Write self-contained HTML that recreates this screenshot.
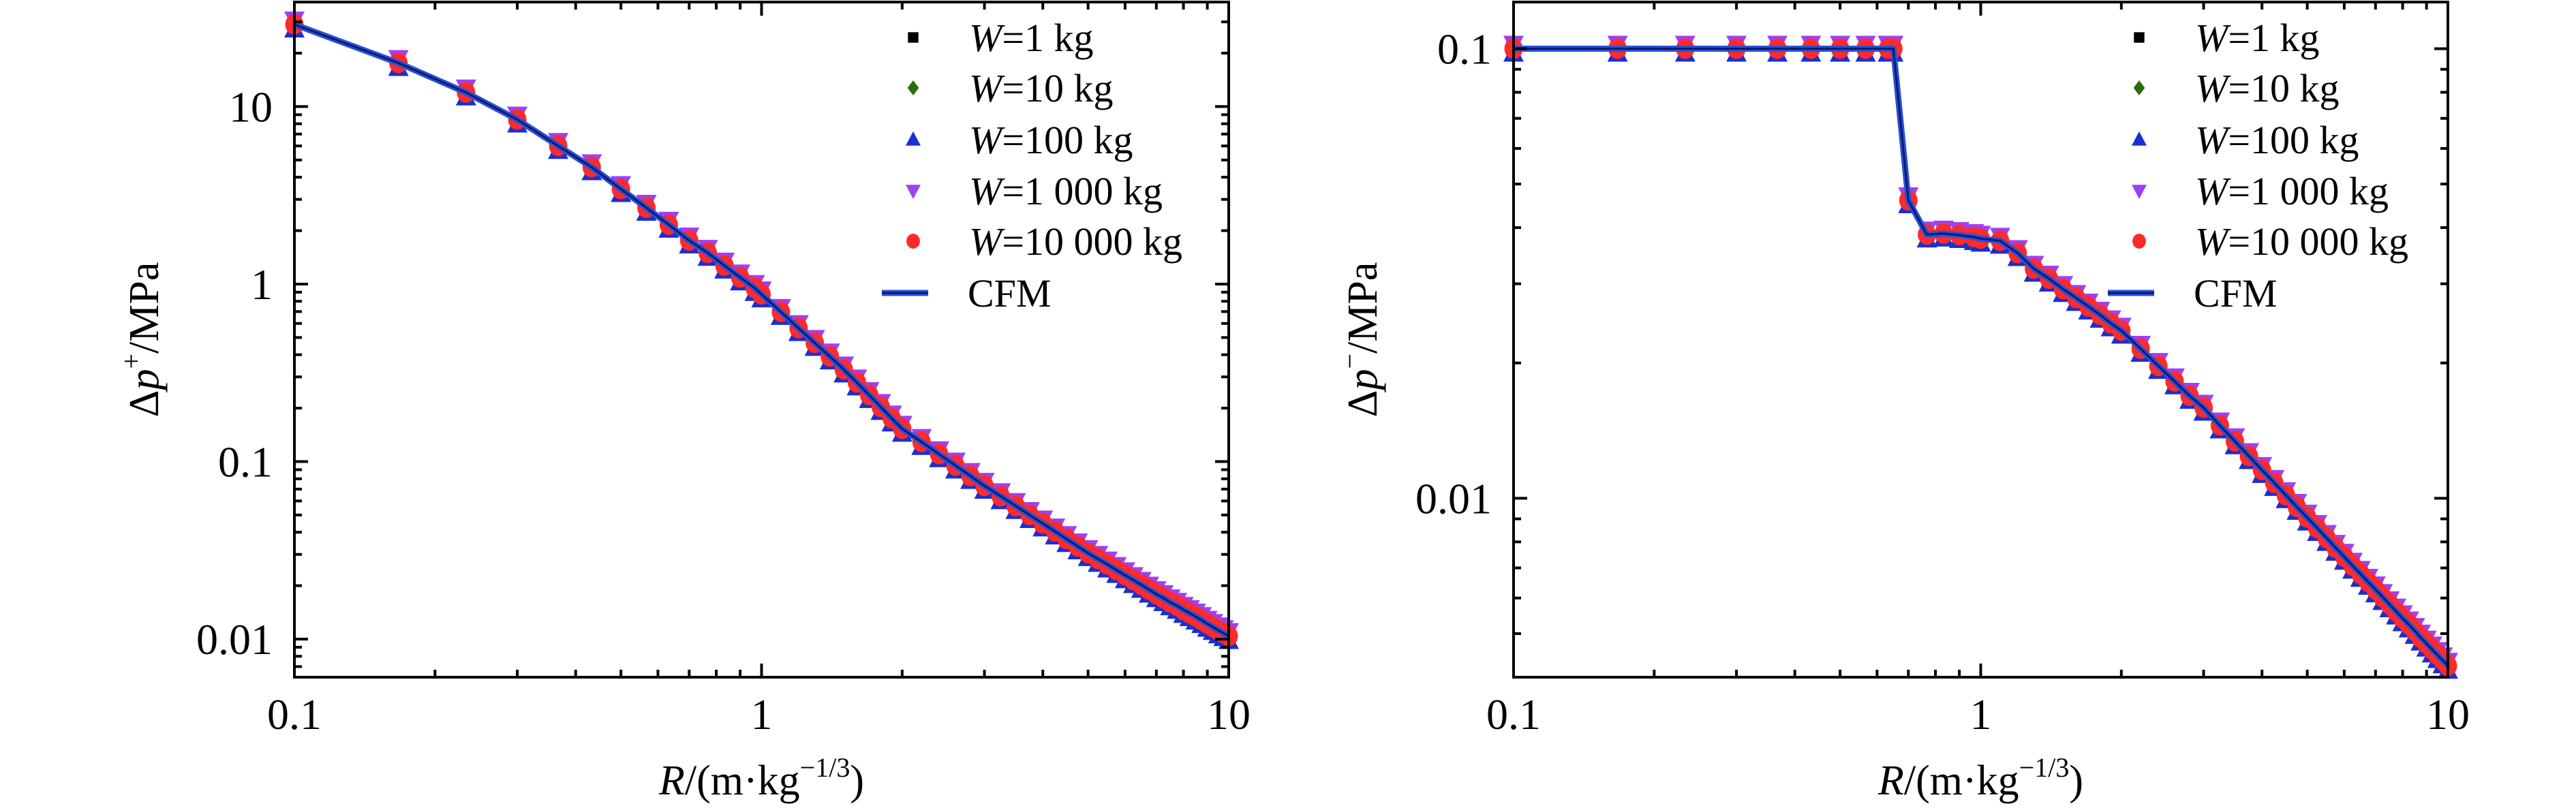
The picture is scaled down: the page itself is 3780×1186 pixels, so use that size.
<!DOCTYPE html>
<html><head><meta charset="utf-8"><style>
html,body{margin:0;padding:0;background:#fff}
svg{display:block}
text{font-family:"Liberation Serif",serif;fill:#000}
</style></head><body>
<svg id="chart" width="3780" height="1186" viewBox="0 0 3780 1186" xmlns="http://www.w3.org/2000/svg"></svg>
<script>
// ---- data (left panel: peak overpressure) ----
const leftR = [0.1,0.167,0.233,0.3,0.367,0.433,0.5,0.567,0.633,0.7,0.767,0.833,0.9,0.967,1.0,1.1,1.2,1.3,1.4,1.5,1.6,1.7,1.8,1.9,2.0,2.2,2.4,2.6,2.8,3.0,3.25,3.5,3.75,4,4.25,4.5,4.75,5,5.25,5.5,5.75,6,6.25,6.5,6.75,7,7.25,7.5,7.75,8,8.25,8.5,8.75,9,9.25,9.5,9.75,10];
const leftP = [29,17.6,12,8.45,6.0,4.55,3.43,2.69,2.16,1.76,1.50,1.27,1.09,0.95,0.875,0.697,0.565,0.466,0.391,0.33,0.279,0.237,0.203,0.175,0.153,0.129,0.110,0.095,0.083,0.073,0.0638,0.0562,0.0500,0.0448,0.0404,0.0366,0.0333,0.0305,0.0283,0.0263,0.0245,0.0229,0.0215,0.0202,0.0190,0.0179,0.0170,0.0161,0.0154,0.0146,0.0140,0.0134,0.0128,0.0122,0.0117,0.0112,0.0108,0.0104];
// ---- data (right panel: negative pressure) ----
const rightR = [0.1,0.167,0.233,0.3,0.367,0.433,0.5,0.567,0.633,0.65,0.7,0.767,0.833,0.9,0.967,1.0,1.1,1.2,1.3,1.4,1.5,1.6,1.7,1.8,1.9,2.0,2.2,2.4,2.6,2.8,3.0,3.25,3.5,3.75,4,4.25,4.5,4.75,5,5.25,5.5,5.75,6,6.25,6.5,6.75,7,7.25,7.5,7.75,8,8.25,8.5,8.75,9,9.25,9.5,9.75,10];
const rightP = [0.1,0.1,0.1,0.1,0.1,0.1,0.1,0.1,0.1,0.1,0.046,0.0386,0.0388,0.0385,0.0381,0.0378,0.0374,0.0351,0.0324,0.0308,0.0292,0.0279,0.0267,0.0256,0.0245,0.0236,0.0215,0.0197,0.0182,0.0169,0.0159,0.01452,0.01339,0.01241,0.01156,0.01082,0.01016,0.00957,0.00906,0.00859,0.00816,0.00776,0.00741,0.00708,0.00679,0.00652,0.00627,0.00603,0.00581,0.00560,0.00541,0.00524,0.00507,0.00490,0.00475,0.00461,0.00448,0.00436,0.00424];
const seriesLabels = ["1 ","10","100","1 000","10 000"];
const xTickValues = [0.1,1,10];
const xTickLabels = ["0.1","1","10"];
const leftYTickValues = [0.01,0.1,1,10];
const leftYTickLabels = ["0.01","0.1","1","10"];
const rightYTickValues = [0.01,0.1];
const rightYTickLabels = ["0.01","0.1"];

const NS="http://www.w3.org/2000/svg";
const svg=document.getElementById('chart');
function mk(tag,attrs,parent){const e=document.createElementNS(NS,tag);for(const k in attrs)e.setAttribute(k,attrs[k]);(parent||svg).appendChild(e);return e;}

const markerStyles=[
 {shape:'square',color:'#000000'},
 {shape:'diamond',color:'#2a6e0a'},
 {shape:'tri',color:'#1a2fd0'},
 {shape:'tridown',color:'#a040f0'},
 {shape:'circle',color:'#ff2a2a'}];
function drawMarker(g,shape,color,x,y,s){
  let e;
  if(shape==='square') e=mk('rect',{x:x-s*0.35,y:y-s*0.35,width:s*0.7,height:s*0.7,fill:color},g);
  else if(shape==='diamond') e=mk('polygon',{points:`${x},${y-s*0.5} ${x+s*0.38},${y} ${x},${y+s*0.5} ${x-s*0.38},${y}`,fill:color},g);
  else if(shape==='tri') e=mk('polygon',{points:`${x},${y-s*0.55} ${x+s*0.5},${y+s*0.4} ${x-s*0.5},${y+s*0.4}`,fill:color},g);
  else if(shape==='tridown') e=mk('polygon',{points:`${x},${y+s*0.55} ${x+s*0.5},${y-s*0.4} ${x-s*0.5},${y-s*0.4}`,fill:color},g);
  else e=mk('ellipse',{cx:x,cy:y,rx:s*0.45,ry:s*0.5,fill:color},g);
  return e;
}

function panel(cfg){
  const {name,x0,x1,y0,y1,xmin,xmax,ymin,ymax,R,P,yT,yL,ylabSup,titleX,legX}=cfg;
  const g=mk('g',{});
  
  
  const lx=Math.log10(xmin),hx=Math.log10(xmax),ly=Math.log10(ymin),hy=Math.log10(ymax);
  const sx=v=>x0+(Math.log10(v)-lx)/(hx-lx)*(x1-x0);
  const sy=v=>y1-(Math.log10(v)-ly)/(hy-ly)*(y1-y0);
  const mg=mk('g',{},g);
  
  
  markerStyles.forEach((m,si)=>{
    const sg=mk('g',{},mg);
    
    
    const off=(si===2?7:si===3?-7:0);
    R.forEach((r,i)=>{const e=drawMarker(sg,m.shape,m.color,sx(r),sy(P[i])+off,30);
      
      });
  });
  const pts=R.map((r,i)=>sx(r).toFixed(1)+','+sy(P[i]).toFixed(1)).join(' ');
  const l1=mk('polyline',{points:pts,fill:'none',stroke:'#2a4fd8','stroke-width':9,'stroke-linejoin':'round'},g);
  
  
  const l2=mk('polyline',{points:pts,fill:'none',stroke:'#0a1a6e','stroke-width':3},g);
  
  
  const fr=mk('rect',{x:x0,y:y0,width:x1-x0,height:y1-y0,fill:'none',stroke:'#000','stroke-width':4},g);
  
  
  const tg=mk('g',{stroke:'#000','stroke-width':4},g);
  
  
  for(let d=Math.floor(lx);d<hx;d++){for(let k=1;k<10;k++){const v=k*Math.pow(10,d);if(v<xmin-1e-9||v>xmax+1e-9)continue;const X=sx(v);const len=k===1?20:11;mk('line',{x1:X,y1:y1,x2:X,y2:y1-len},tg);mk('line',{x1:X,y1:y0,x2:X,y2:y0+len},tg);}}
  for(let d=Math.floor(ly);d<hy;d++){for(let k=1;k<10;k++){const v=k*Math.pow(10,d);if(v<ymin||v>ymax)continue;const Y=sy(v);const len=k===1?20:11;mk('line',{x1:x0,y1:Y,x2:x0+len,y2:Y},tg);mk('line',{x1:x1,y1:Y,x2:x1-len,y2:Y},tg);}}
  xTickValues.forEach((v,i)=>{const t=mk('text',{x:sx(v),y:1070,'font-size':64,'text-anchor':'middle'},g);t.textContent=xTickLabels[i];
    
    });
  yT.forEach((v,i)=>{const t=mk('text',{x:x0-32,y:sy(v)+22,'font-size':64,'text-anchor':'end'},g);t.textContent=yL[i];
    
    });
  const xt=mk('text',{x:sx(1),y:1166,'font-size':62,'text-anchor':'middle'},g);
  xt.innerHTML='<tspan font-style="italic">R</tspan>/(m·kg<tspan font-size="40" dy="-26">−1/3</tspan><tspan dy="26">)</tspan>';
  
  
  const yt=mk('text',{x:0,y:0,'font-size':62,'text-anchor':'middle',transform:`translate(${titleX},${(y0+y1)/2}) rotate(-90)`},g);
  yt.innerHTML='Δ<tspan font-style="italic">p</tspan><tspan font-size="40" dy="-26">'+ylabSup+'</tspan><tspan dy="26">/MPa</tspan>';
  
  
  const lg=mk('g',{},g);
  
  
  const rows=[55,129,205,280,354];
  markerStyles.forEach((m,i)=>{
    const eg=mk('g',{},lg);
    
    
    drawMarker(eg,m.shape,m.color,legX,rows[i],22);
    const t=mk('text',{x:legX+82,y:rows[i]+20,'font-size':58},eg);
    t.innerHTML='<tspan font-style="italic">W</tspan>='+seriesLabels[i]+' kg';
  });
  const ce=mk('g',{},lg);
  
  
  mk('line',{x1:legX-46,y1:430,x2:legX+22,y2:430,stroke:'#2a4fd8','stroke-width':9},ce);
  mk('line',{x1:legX-46,y1:430,x2:legX+22,y2:430,stroke:'#0a1a6e','stroke-width':3},ce);
  const ct=mk('text',{x:legX+80,y:450,'font-size':58},ce);ct.textContent='CFM';
}
panel({name:'left-panel-overpressure',x0:432,x1:1803,y0:3,y1:994,xmin:0.1,xmax:10,ymin:0.0061,ymax:38.8,R:leftR,P:leftP,yT:leftYTickValues,yL:leftYTickLabels,ylabSup:'+',titleX:232,legX:1340});
panel({name:'right-panel-negative-pressure',x0:2221,x1:3592,y0:3,y1:994,xmin:0.1,xmax:10,ymin:0.00400,ymax:0.127,R:rightR,P:rightP,yT:rightYTickValues,yL:rightYTickLabels,ylabSup:'−',titleX:2020,legX:3139});
</script>
</body></html>
